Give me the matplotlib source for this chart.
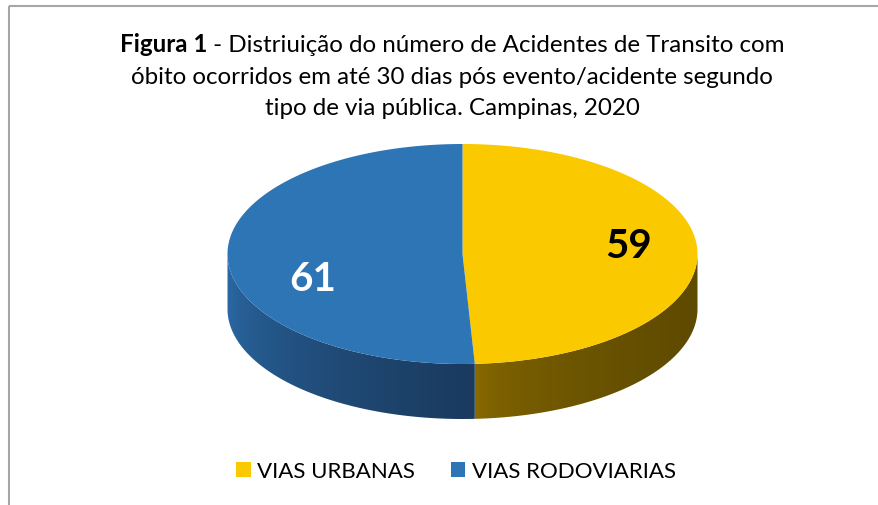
import numpy as np
import matplotlib.pyplot as plt
from matplotlib.patches import Polygon, Patch

labels = ['VIAS URBANAS', 'VIAS RODOVIARIAS']
values = [59, 61]
top_colors = ['#FAC900', '#2E75B6']
side_left = ['#8C6C00', '#2B6BA8']     # gradient start (left) of the side wall
side_right = ['#5E4A00', '#1A3A5E']    # gradient end (right)
label_colors = ['black', 'white']

title_bold = 'Figura 1'
title_lines = [' - Distriuição do número de Acidentes de Transito com',
               'óbito ocorridos em até 30 dias pós evento/acidente segundo',
               'tipo de via pública. Campinas, 2020']

W, H = 879, 506
plt.rcParams['font.family'] = ['Lato', 'DejaVu Sans']

fig = plt.figure(figsize=(W / 100, H / 100), dpi=100)
ax = fig.add_axes([0, 0, 1, 1])
ax.set_xlim(0, W)
ax.set_ylim(H, 0)
ax.axis('off')

# chart border (only top and left visible)
ax.plot([9, W], [7, 7], color='#A6A6A6', lw=1.5, solid_capstyle='butt')
ax.plot([9, 9], [7, H], color='#A6A6A6', lw=1.5, solid_capstyle='butt')

# pie geometry (pixel space)
cx, cy = 462.5, 255
rx, ry = 235, 110
depth = 55

total = float(sum(values))
angles = [90]
for v in values:
    angles.append(angles[-1] - 360 * v / total)


def arc(t0, t1, n=200):
    t = np.radians(np.linspace(t0, t1, n))
    return cx + rx * np.cos(t), cy - ry * np.sin(t)


def hex2rgb(h):
    h = h.lstrip('#')
    return np.array([int(h[i:i + 2], 16) / 255 for i in (0, 2, 4)])


# side walls (front half only: angles between -180 and 0)
for i in range(len(values)):
    a_lo, a_hi = min(angles[i], angles[i + 1]), max(angles[i], angles[i + 1])
    lo, hi = max(a_lo, -180), min(a_hi, 0)
    if hi <= lo:
        continue
    xs, ys = arc(hi, lo)
    px = np.concatenate([xs, xs[::-1]])
    py = np.concatenate([ys, ys[::-1] + depth])
    poly = Polygon(np.column_stack([px, py]), closed=True, facecolor='none', edgecolor='none')
    ax.add_patch(poly)
    x0, x1 = px.min(), px.max()
    g = np.linspace(0, 1, 256)[None, :, None]
    c0, c1 = hex2rgb(side_left[i]), hex2rgb(side_right[i])
    img = c0 + (c1 - c0) * np.sqrt(g)
    im = ax.imshow(img, extent=[x0, x1, py.max(), py.min()], aspect='auto', zorder=1,
                   interpolation='bilinear')
    im.set_clip_path(poly)

# top faces
for i in range(len(values)):
    xs, ys = arc(angles[i], angles[i + 1])
    pts = np.column_stack([np.r_[cx, xs], np.r_[cy, ys]])
    ax.add_patch(Polygon(pts, closed=True, facecolor=top_colors[i], edgecolor='none', zorder=2))

# value labels
nudge = [(6, -7), (10, 23)]
for i, v in enumerate(values):
    mid = np.radians((angles[i] + angles[i + 1]) / 2)
    lx = cx + 0.68 * rx * np.cos(mid) + nudge[i][0]
    ly = cy - 0.68 * ry * np.sin(mid) + nudge[i][1]
    ax.text(lx, ly, str(v), fontsize=29, fontweight='bold', color=label_colors[i],
            ha='center', va='center', zorder=3)

# title
fs = 17.4
baselines = [52, 83.5, 115]
title_cx = 452
renderer = fig.canvas.get_renderer()
t_b = ax.text(0, baselines[0], title_bold, fontsize=fs, fontweight='bold', va='baseline', ha='left')
t_r = ax.text(0, baselines[0], title_lines[0], fontsize=fs, va='baseline', ha='left')
wb = t_b.get_window_extent(renderer).width
wr = t_r.get_window_extent(renderer).width
start = title_cx - (wb + wr) / 2
t_b.set_x(start)
t_r.set_x(start + wb)
for j in (1, 2):
    ax.text(title_cx, baselines[j], title_lines[j], fontsize=fs, va='baseline', ha='center')

# legend
handles = [Patch(facecolor=top_colors[i], edgecolor='none', label=labels[i]) for i in range(len(values))]
ax.legend(handles=handles, loc='center', bbox_to_anchor=(456 / W, 1 - 472 / H), ncol=2,
          frameon=False, fontsize=16, handlelength=0.65, handleheight=0.65,
          handletextpad=0.3, columnspacing=1.6)

fig.savefig('out.png', dpi=100)
